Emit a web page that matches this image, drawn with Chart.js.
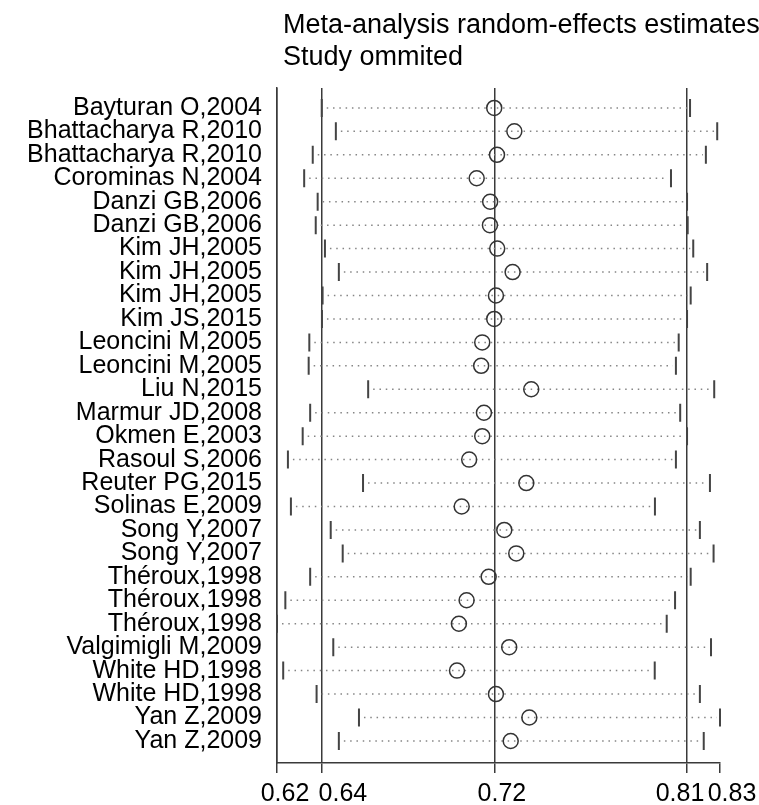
<!DOCTYPE html>
<html>
<head>
<meta charset="utf-8">
<title>Study omitted sensitivity plot</title>
<script src="https://cdn.jsdelivr.net/npm/chart.js@4.4.1/dist/chart.umd.min.js"></script>
<style>
  body { margin: 0; background: #fff; }
  #wrap { width: 759px; height: 805px; }
</style>
</head>
<body>
<div id="wrap"><canvas id="chart"></canvas></div>
<script>
// one row per omitted study, top to bottom
const studies = [
    'Bayturan O,2004', 'Bhattacharya R,2010', 'Bhattacharya R,2010', 'Corominas N,2004',
    'Danzi GB,2006', 'Danzi GB,2006', 'Kim JH,2005', 'Kim JH,2005', 'Kim JH,2005',
    'Kim JS,2015', 'Leoncini M,2005', 'Leoncini M,2005', 'Liu N,2015', 'Marmur JD,2008',
    'Okmen E,2003', 'Rasoul S,2006', 'Reuter PG,2015', 'Solinas E,2009', 'Song Y,2007',
    'Song Y,2007', 'Théroux,1998', 'Théroux,1998', 'Théroux,1998', 'Valgimigli M,2009',
    'White HD,1998', 'White HD,1998', 'Yan Z,2009', 'Yan Z,2009'
];
const estimate = [
    0.7210, 0.7304, 0.7223, 0.7128, 0.7191, 0.7190, 0.7224, 0.7296, 0.7218,
    0.7210, 0.7154, 0.7149, 0.7383, 0.7162, 0.7154, 0.7093, 0.7360, 0.7058,
    0.7257, 0.7313, 0.7184, 0.7081, 0.7045, 0.7280, 0.7036, 0.7218, 0.7374, 0.7287
];
const lowerCI = [
    0.6404, 0.6470, 0.6362, 0.6322, 0.6385, 0.6376, 0.6419, 0.6484, 0.6408,
    0.6405, 0.6346, 0.6343, 0.6621, 0.6350, 0.6315, 0.6246, 0.6597, 0.6260,
    0.6446, 0.6502, 0.6350, 0.6234, 0.6195, 0.6458, 0.6224, 0.6380, 0.6578, 0.6484
];
const upperCI = [
    0.8125, 0.8252, 0.8199, 0.8036, 0.8111, 0.8114, 0.8140, 0.8205, 0.8128,
    0.8111, 0.8072, 0.8059, 0.8238, 0.8079, 0.8111, 0.8059, 0.8218, 0.7961,
    0.8171, 0.8235, 0.8128, 0.8055, 0.8016, 0.8223, 0.7960, 0.8171, 0.8265, 0.8189
];

// min lower, overall lower, overall estimate, overall upper, max upper
const tickValues = [0.6195, 0.6405, 0.7213, 0.8111, 0.8265];
const tickLabels = ['0.62', '0.64', '0.72', '0.81', '0.83'];

const titleLines = ['Meta-analysis random-effects estimates', 'Study ommited'];

const FONT = '"Liberation Sans", Arial, sans-serif';
const LINE = '#3a3a3a';
const xLabelShift = [8, 21, 7, -7, 12]; // labels sit a bit off their ticks in the original

// dotted CI line with short end bars
const ciPlugin = {
    id: 'ciLines',
    beforeDatasetsDraw(chart) {
        const { ctx, scales: { x, y } } = chart;
        ctx.save();
        studies.forEach((s, i) => {
            const yy = y.getPixelForValue(i);
            const x0 = x.getPixelForValue(lowerCI[i]);
            const x1 = x.getPixelForValue(upperCI[i]);
            ctx.strokeStyle = '#858585';
            ctx.lineWidth = 1.5;
            ctx.setLineDash([1.5, 4.8]);
            ctx.beginPath();
            ctx.moveTo(x0 + 5, yy);
            ctx.lineTo(x1 - 3, yy);
            ctx.stroke();
            ctx.setLineDash([]);
            ctx.strokeStyle = '#444';
            ctx.lineWidth = 2;
            ctx.beginPath();
            ctx.moveTo(x0, yy - 9); ctx.lineTo(x0, yy + 9);
            ctx.moveTo(x1, yy - 9); ctx.lineTo(x1, yy + 9);
            ctx.stroke();
        });
        ctx.restore();
    }
};

// title and x tick labels
const textPlugin = {
    id: 'texts',
    afterDraw(chart) {
        const { ctx, chartArea, scales: { x } } = chart;
        ctx.save();
        ctx.fillStyle = '#000';
        ctx.font = '27px ' + FONT;
        ctx.textAlign = 'left';
        ctx.textBaseline = 'alphabetic';
        ctx.fillText(titleLines[0], chartArea.left + 6, 33);
        ctx.fillText(titleLines[1], chartArea.left + 6, 65);

        ctx.font = '25px ' + FONT;
        ctx.textAlign = 'center';
        tickValues.forEach((v, i) => {
            ctx.fillText(tickLabels[i], x.getPixelForValue(v) + xLabelShift[i], chartArea.bottom + 38);
        });
        ctx.restore();
    }
};

new Chart(document.getElementById('chart'), {
    type: 'scatter',
    data: {
        datasets: [{
            label: 'Estimate',
            data: estimate.map((v, i) => ({ x: v, y: i })),
            pointStyle: 'circle',
            pointRadius: 7.5,
            pointHoverRadius: 7.5,
            pointBorderWidth: 1.5,
            pointBorderColor: '#333',
            pointBackgroundColor: 'rgba(0,0,0,0)'
        }]
    },
    options: {
        responsive: true,
        maintainAspectRatio: false,
        animation: false,
        layout: { padding: { top: 88, right: 39, left: 0, bottom: 0 } },
        plugins: {
            legend: { display: false },
            tooltip: { enabled: false },
            title: { display: false }
        },
        scales: {
            x: {
                type: 'linear',
                min: tickValues[0],
                max: tickValues[tickValues.length - 1],
                afterBuildTicks: axis => { axis.ticks = tickValues.map(v => ({ value: v })); },
                afterFit: axis => { axis.height = 42; },
                ticks: { display: false },
                grid: {
                    color: c => (c.index === tickValues.length - 1 ? 'rgba(0,0,0,0)' : LINE),
                    tickColor: LINE,
                    lineWidth: 1.5,
                    tickLength: 10
                },
                border: { display: true, color: LINE, width: 1.5 }
            },
            y: {
                type: 'linear',
                reverse: true,
                min: -0.85,
                max: 27.94,
                afterBuildTicks: axis => { axis.ticks = studies.map((s, i) => ({ value: i })); },
                afterFit: axis => { axis.width = 277; },
                ticks: {
                    autoSkip: false,
                    padding: 15,
                    color: '#000',
                    font: { family: FONT, size: 25 },
                    callback: v => studies[v]
                },
                grid: { display: false, drawTicks: false },
                border: { display: true, color: LINE, width: 1.5 }
            }
        }
    },
    plugins: [ciPlugin, textPlugin]
});
</script>
</body>
</html>
